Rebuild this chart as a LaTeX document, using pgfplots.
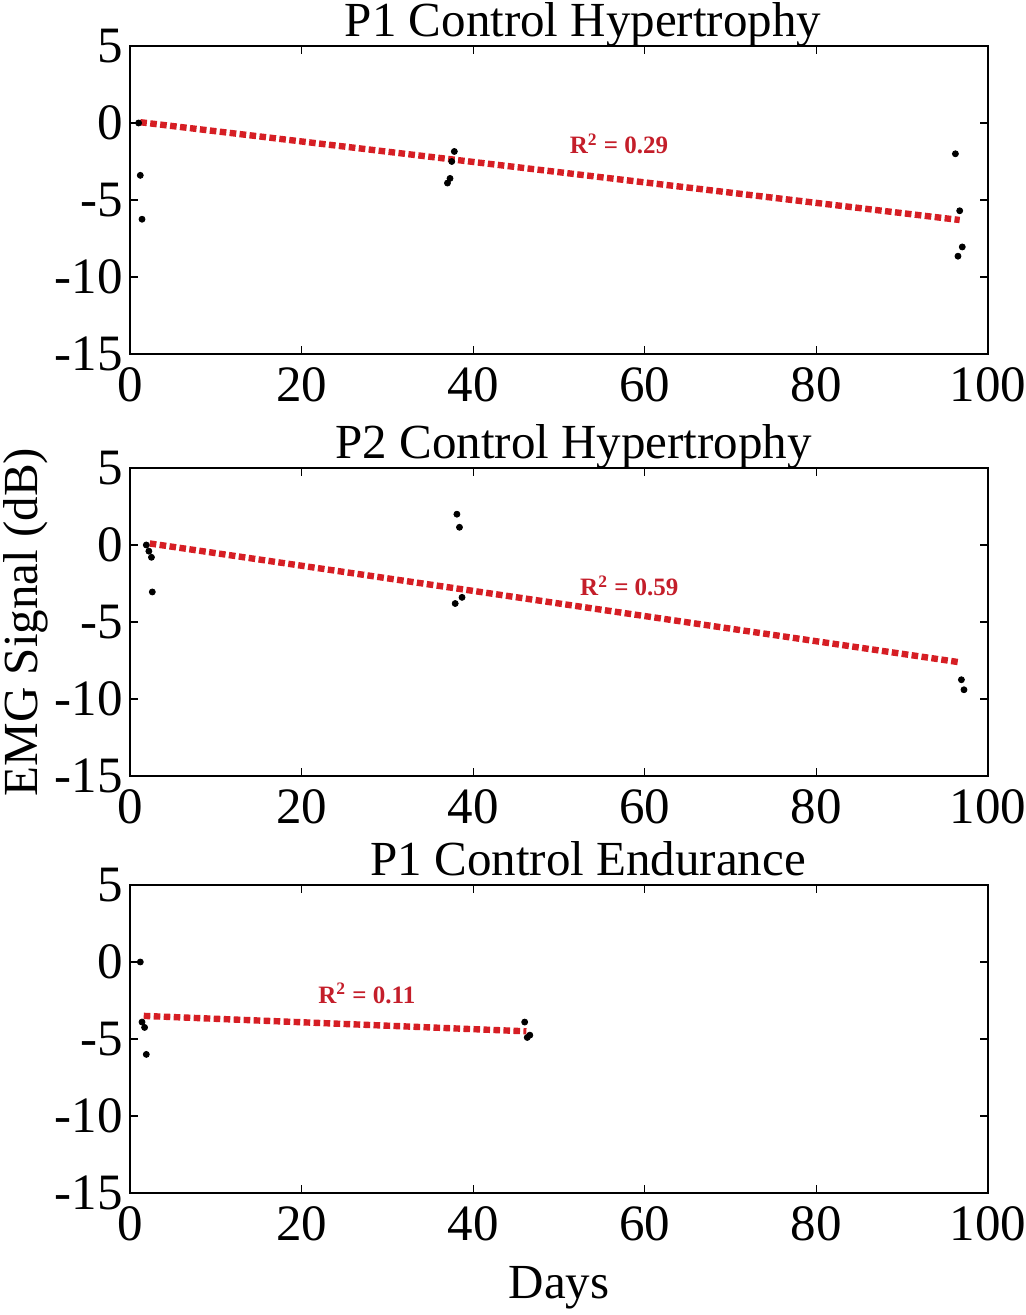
\documentclass[border=0pt]{standalone}
\usepackage{pgfplots}
\pgfplotsset{compat=1.18}
\usepackage{fontspec}
\setmainfont{Liberation Serif}
\definecolor{fitred}{RGB}{214,30,36}
\definecolor{txtred}{RGB}{196,30,42}
\newcommand{\bigfont}{\fontsize{24.5}{29}\selectfont}
\newcommand{\tickfont}{\fontsize{25.5}{30}\selectfont}
\newcommand{\rfont}{\fontsize{12.5}{15}\selectfont\bfseries}
\pgfplotsset{
 panel/.style={
  width=429pt, height=154pt, scale only axis,
  xmin=0,xmax=100, ymin=-15,ymax=5,
  xtick={0,20,40,60,80,100}, xticklabels={0,20,40,60,80,100},
  ytick={-15,-10,-5,0,5}, yticklabels={-15,-10,-5,0,5},
  tick align=inside, major tick length=4pt,
  tick style={black, line width=0.6pt},
  axis line style={line width=0.7pt},
  tick label style={font=\tickfont},
  xticklabel style={yshift=-3.5pt},
  title style={font=\bigfont, anchor=base, yshift=-1.5pt},
  clip=false,
  anchor=south west,
 },
 dots/.style={only marks, mark=*, mark size=1.5pt, black},
 fit/.style={no marks, fitred, line width=3.2pt, dash pattern=on 3.3pt off 1.7pt},
}
\begin{document}
\begin{tikzpicture}
\path[use as bounding box] (0,0) rectangle (513pt,657.5pt);

% Panel 1
\begin{axis}[panel, at={(65pt,480.5pt)},
  title={P1 Control Hypertrophy}, title style={at={(0.528,1)}}]
\addplot[fit] coordinates {(1.2,0.05) (96.7,-6.3)};
\addplot[dots] coordinates {
 (1.0,0) (1.2,-3.4) (1.4,-6.25)
 (37.0,-3.9) (37.3,-3.6) (37.5,-2.5) (37.8,-1.85)
 (96.2,-2.0) (96.7,-5.7) (97.0,-8.05) (96.5,-8.65)};
\node[txtred, font=\rfont, anchor=base] at (axis cs:57,-2.0) {R\textsuperscript{2} = 0.29};
\end{axis}

% Panel 2
\begin{axis}[panel, at={(65pt,269.5pt)},
  title={P2 Control Hypertrophy}, title style={at={(0.517,1)}},
  ylabel={EMG Signal (dB)},
  ylabel style={font=\bigfont, at={(axis description cs:-0.122,0.5)}, anchor=center}]
\addplot[fit] coordinates {(2.3,0.1) (96.5,-7.6)};
\addplot[dots] coordinates {
 (1.9,0) (2.2,-0.4) (2.5,-0.8) (2.6,-3.05)
 (38.1,2.0) (38.4,1.15) (38.7,-3.4) (37.9,-3.8)
 (96.9,-8.75) (97.2,-9.4)};
\node[txtred, font=\rfont, anchor=base] at (axis cs:58.2,-3.3) {R\textsuperscript{2} = 0.59};
\end{axis}

% Panel 3
\begin{axis}[panel, at={(65pt,61pt)},
  title={P1 Control Endurance}, title style={at={(0.534,1)}},
  xlabel={Days},
  xlabel style={font=\bigfont, at={(axis description cs:0.5,-0.341)}, anchor=base}]
\addplot[fit] coordinates {(1.6,-3.5) (46.2,-4.5)};
\addplot[dots] coordinates {
 (1.2,0) (1.4,-3.9) (1.7,-4.25) (1.9,-6.0)
 (46.0,-3.9) (46.3,-4.9) (46.6,-4.75)};
\node[txtred, font=\rfont, anchor=base] at (axis cs:27.6,-2.7) {R\textsuperscript{2} = 0.11};
\end{axis}
\end{tikzpicture}
\end{document}
